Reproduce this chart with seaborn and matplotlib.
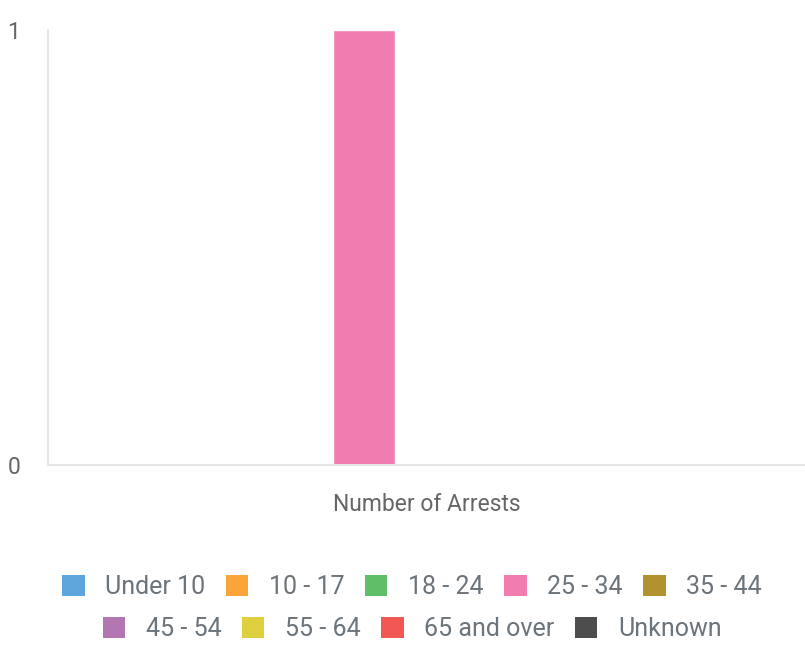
import matplotlib.pyplot as plt
import pandas as pd
import seaborn as sns
from matplotlib.patches import Patch

# data
groups = ["Under 10", "10 - 17", "18 - 24", "25 - 34", "35 - 44",
          "45 - 54", "55 - 64", "65 and over", "Unknown"]
arrests = [0, 0, 0, 1, 0, 0, 0, 0, 0]
category = "Number of Arrests"
colors = ["#5DA5DA", "#FAA43A", "#60BD68", "#F17CB0", "#B2912F",
          "#B276B2", "#DECF3F", "#F15854", "#4D4D4D"]

df = pd.DataFrame({"metric": [category] * len(groups), "group": groups, "value": arrests})

sns.set_style("white")
plt.rcParams["font.family"] = ["Roboto", "DejaVu Sans"]

fig = plt.figure(figsize=(8.05, 6.47), dpi=100)
ax = fig.add_axes([48 / 805, 1 - 465 / 647, 1 - 48 / 805, (465 - 30) / 647])

sns.barplot(data=df, x="metric", y="value", hue="group", hue_order=groups,
            palette=colors, width=0.745, saturation=1, legend=False, ax=ax)

ax.set_ylim(0, 1)
ax.set_yticks([0, 1])
ax.set_xlabel("")
ax.set_ylabel("")
ax.tick_params(axis="y", length=0, pad=20, labelsize=16.5, labelcolor="#666666")
ax.tick_params(axis="x", length=0, pad=20, labelsize=16.5, labelcolor="#666666")
for s in ["top", "right"]:
    ax.spines[s].set_visible(False)
for s in ["left", "bottom"]:
    ax.spines[s].set_color("#e6e6e6")
    ax.spines[s].set_linewidth(1.5)

handles = [Patch(facecolor=c, edgecolor="none", label=g) for g, c in zip(groups, colors)]
kw = dict(frameon=False, fontsize=18, labelcolor="#6b737b", handlelength=0.9,
          handleheight=0.9, handletextpad=0.82, columnspacing=0.82, borderpad=0)
leg1 = fig.legend(handles=handles[:5], ncol=5, loc="center",
                  bbox_to_anchor=(412 / 805, 1 - 587 / 647), **kw)
leg2 = fig.legend(handles=handles[5:], ncol=4, loc="center",
                  bbox_to_anchor=(412 / 805, 1 - 629 / 647), **kw)

fig.savefig("out.png", dpi=100)
